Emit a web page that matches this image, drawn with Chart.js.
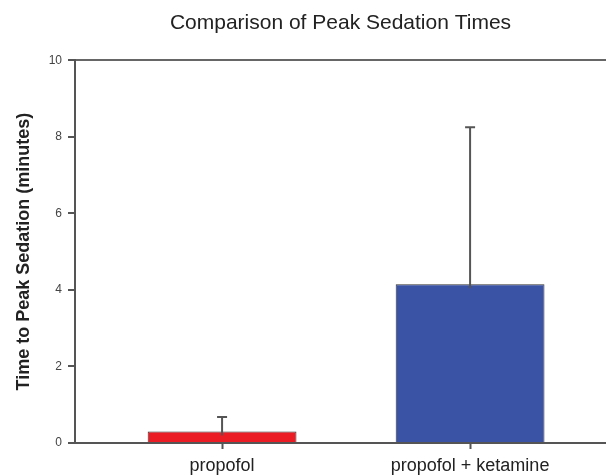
<!DOCTYPE html>
<html>
<head>
<meta charset="utf-8">
<script src="https://cdn.jsdelivr.net/npm/chart.js@4/dist/chart.umd.min.js"></script>
<style>
  html, body { margin: 0; padding: 0; background: #fff; }
  #wrap { width: 606px; height: 476px; }
</style>
</head>
<body>
<div id="wrap"><canvas id="chart" width="606" height="476"></canvas></div>
<script>
// valeurs
const categories = ['propofol', 'propofol + ketamine'];
const positions = [1, 2];
const means = [0.3, 4.15];
const sdUpper = [0.38, 4.1];
const yTicks = [0, 2, 4, 6, 8, 10];
const barColors = ['#ec1c24', '#3a53a4'];
const xMin = 0.407, xMax = 2.548;

const FONT = '"Liberation Sans", Arial, sans-serif';

// barres d'erreur (uniquement vers le haut)
const errorBars = {
  id: 'errorBars',
  afterDatasetsDraw(chart) {
    const ctx = chart.ctx;
    const y = chart.scales.y;
    const meta = chart.getDatasetMeta(0);
    ctx.save();
    ctx.strokeStyle = '#555';
    ctx.lineWidth = 2;
    meta.data.forEach((bar, i) => {
      const top = y.getPixelForValue(means[i] + sdUpper[i]);
      const base = y.getPixelForValue(means[i]);
      ctx.beginPath();
      ctx.moveTo(bar.x, base + 4);
      ctx.lineTo(bar.x, top);
      ctx.moveTo(bar.x - 5, top);
      ctx.lineTo(bar.x + 5, top);
      ctx.stroke();
    });
    ctx.restore();
  }
};

new Chart(document.getElementById('chart'), {
  type: 'bar',
  data: {
    datasets: [{
      data: positions.map((p, i) => ({ x: p, y: means[i] })),
      backgroundColor: barColors,
      borderColor: '#333',
      borderWidth: 1,
      categoryPercentage: 1,
      barPercentage: 0.6
    }]
  },
  options: {
    responsive: false,
    animation: false,
    layout: { padding: { left: 0, right: 0, top: 0, bottom: 0 } },
    plugins: {
      legend: { display: false },
      tooltip: { enabled: false },
      title: {
        display: true,
        text: 'Comparison of Peak Sedation Times',
        fullSize: false,
        color: '#222',
        font: { family: FONT, size: 21, weight: 'normal' },
        padding: { top: 11, bottom: 24 }
      }
    },
    scales: {
      x: {
        type: 'linear',
        min: xMin,
        max: xMax,
        offset: false,
        afterBuildTicks: s => { s.ticks = positions.map(v => ({ value: v })); },
        afterFit: s => { s.height = 33; },
        ticks: {
          color: '#222',
          font: { family: FONT, size: 18 },
          padding: 6,
          maxRotation: 0,
          callback: v => categories[positions.indexOf(v)]
        },
        grid: { offset: false, drawOnChartArea: false, drawTicks: true, tickLength: 6, tickColor: '#555', tickWidth: 2 },
        border: { display: true, color: '#555', width: 2 }
      },
      y: {
        min: 0,
        max: 10,
        afterBuildTicks: s => { s.ticks = yTicks.map(v => ({ value: v })); },
        afterFit: s => { s.width = 75; },
        title: {
          display: true,
          text: 'Time to Peak Sedation (minutes)',
          color: '#222',
          font: { family: FONT, size: 18, weight: 'bold' },
          padding: { top: 13, bottom: 0 }
        },
        ticks: { color: '#444', font: { family: FONT, size: 12 }, padding: 6 },
        grid: {
          drawOnChartArea: true,
          color: c => (c.tick && c.tick.value === 10 ? '#666' : 'rgba(0,0,0,0)'),
          lineWidth: 2,
          tickLength: 7,
          tickColor: '#555',
          tickWidth: 2
        },
        border: { display: true, color: '#555', width: 2 }
      }
    }
  },
  plugins: [errorBars]
});
</script>
</body>
</html>
